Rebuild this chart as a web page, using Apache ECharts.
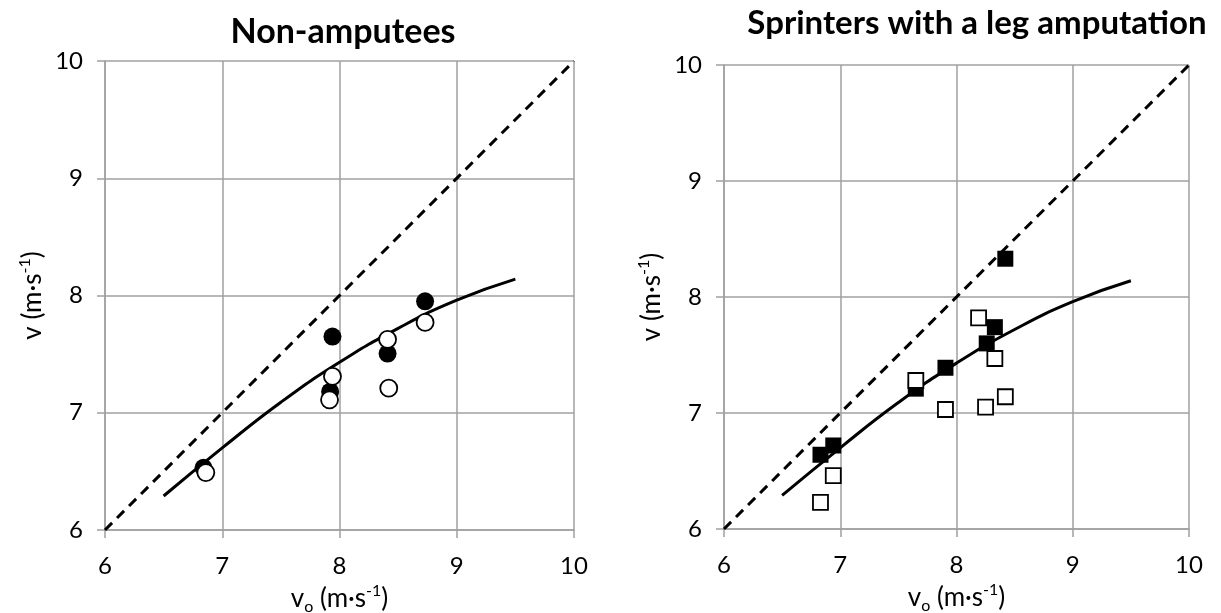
<!DOCTYPE html>
<html>
<head>
<meta charset="utf-8">
<title>v vs vo</title>
<script src="https://cdn.jsdelivr.net/npm/echarts@6/dist/echarts.min.js"></script>
<style>
    html, body { margin: 0; padding: 0; background: #fff; }
    #chart { width: 1221px; height: 613px; }
</style>
</head>
<body>
<div id="chart"></div>
<script>
// axis ticks (both panels)
var tickValues = [6, 7, 8, 9, 10];

// Non-amputees: [vo, v]
var ableFilled = [[6.84, 6.53], [7.92, 7.18], [7.94, 7.65], [8.41, 7.505], [8.73, 7.95]];
var ableOpen = [[6.86, 6.49], [7.915, 7.11], [7.94, 7.31], [8.41, 7.625], [8.42, 7.21], [8.73, 7.77]];

// Sprinters with a leg amputation: [vo, v]
var ampFilled = [[6.83, 6.64], [6.94, 6.72], [7.65, 7.21], [7.905, 7.39], [8.26, 7.60], [8.33, 7.74], [8.42, 8.33]];
var ampOpen = [[6.83, 6.23], [6.94, 6.46], [7.65, 7.28], [7.905, 7.03], [8.19, 7.82], [8.25, 7.05], [8.33, 7.47], [8.42, 7.14]];

// solid curve (same in both panels)
var curveX = [6.5, 7, 7.5, 8, 8.5, 9, 9.5];
var curveY = [6.29, 6.70, 7.09, 7.43, 7.72, 7.96, 8.14];

// dashed identity line
var identity = [[6, 6], [10, 10]];

var gridColor = '#a0a0a0';
var fontName = 'Lato';

var nameRich = {
    n: { fontSize: 26, fontFamily: fontName, color: '#000', lineHeight: 32 },
    sup: { fontSize: 16, fontFamily: fontName, color: '#000', lineHeight: 16, verticalAlign: 'top' },
    sub: { fontSize: 16, fontFamily: fontName, color: '#000', lineHeight: 16, verticalAlign: 'bottom' }
};

function makeAxis(idx, isX) {
    return {
        type: 'value',
        gridIndex: idx,
        min: tickValues[0],
        max: tickValues[tickValues.length - 1],
        interval: 1,
        name: isX ? '{n|v}{sub|o}{n| (m·s}{sup|-1}{n|)}' : '{n|v (m·s}{sup|-1}{n|)}',
        nameLocation: 'middle',
        nameGap: isX ? 44 : 56,
        nameRotate: isX ? 0 : 90,
        nameTextStyle: { fontSize: 26, fontFamily: fontName, rich: nameRich },
        axisLine: { show: true, onZero: false, lineStyle: { color: gridColor, width: 1.5 } },
        axisTick: { show: true, length: 8, lineStyle: { color: gridColor, width: 1.5 } },
        axisLabel: {
            color: '#000',
            fontSize: 24,
            fontFamily: fontName,
            margin: isX ? 24 : 22
        },
        splitLine: { show: true, lineStyle: { color: gridColor, width: 1.5 } }
    };
}

function panelSeries(idx, filled, open, shape, size) {
    return [
        {
            type: 'line',
            xAxisIndex: idx, yAxisIndex: idx,
            data: identity,
            showSymbol: false,
            silent: true,
            lineStyle: { color: '#000', width: 3, type: [10, 7] },
            z: 2
        },
        {
            type: 'line',
            xAxisIndex: idx, yAxisIndex: idx,
            data: curveX.map(function (x, i) { return [x, curveY[i]]; }),
            smooth: 0.5,
            showSymbol: false,
            silent: true,
            lineStyle: { color: '#000', width: 3 },
            z: 2
        },
        {
            type: 'scatter',
            xAxisIndex: idx, yAxisIndex: idx,
            data: filled,
            symbol: shape,
            symbolSize: size + 1,
            itemStyle: { color: '#000', opacity: 1 },
            z: 3
        },
        {
            type: 'scatter',
            xAxisIndex: idx, yAxisIndex: idx,
            data: open,
            symbol: shape,
            symbolSize: size,
            itemStyle: { color: '#fff', borderColor: '#000', borderWidth: 1.8, opacity: 1 },
            z: 4
        }
    ];
}

var chart = echarts.init(document.getElementById('chart'));
chart.setOption({
    animation: false,
    backgroundColor: '#fff',
    title: [
        {
            text: 'Non-amputees',
            left: 338, top: 10, textAlign: 'center',
            textStyle: { fontFamily: fontName, fontWeight: 'bold', fontSize: 34, color: '#000' }
        },
        {
            text: 'Sprinters with a leg amputation',
            left: 972, top: 2, textAlign: 'center',
            textStyle: { fontFamily: fontName, fontWeight: 'bold', fontSize: 33, color: '#000' }
        }
    ],
    grid: [
        { left: 105, top: 61, width: 469, height: 469, outerBoundsMode: 'none' },
        { left: 724, top: 65, width: 465, height: 464, outerBoundsMode: 'none' }
    ],
    xAxis: [makeAxis(0, true), makeAxis(1, true)],
    yAxis: [makeAxis(0, false), makeAxis(1, false)],
    series: panelSeries(0, ableFilled, ableOpen, 'circle', 17)
        .concat(panelSeries(1, ampFilled, ampOpen, 'rect', 15))
});
</script>
</body>
</html>
